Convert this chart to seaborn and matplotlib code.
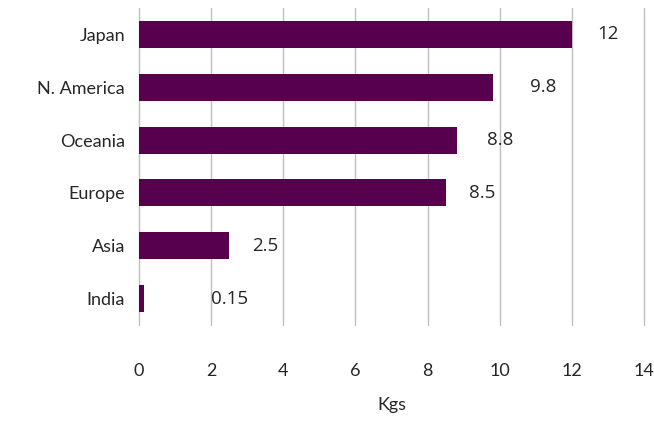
import matplotlib
matplotlib.use("Agg")
import matplotlib.pyplot as plt
import seaborn as sns
import pandas as pd

# Data
regions = ["Japan", "N. America", "Oceania", "Europe", "Asia", "India"]
kgs = [12, 9.8, 8.8, 8.5, 2.5, 0.15]
value_labels = ["12", "9.8", "8.8", "8.5", "2.5", "0.15"]
x_ticks = [0, 2, 4, 6, 8, 10, 12, 14]

# horizontal shift (data units) of each value label's centre from its bar end
label_shift = [1.0, 1.4, 1.2, 1.0, 1.0, 2.35]

sns.set_theme(style="white")
plt.rcParams["font.family"] = ["Lato", "DejaVu Sans"]

df = pd.DataFrame({"region": regions, "kgs": kgs})

fig = plt.figure(figsize=(6.54, 4.21), dpi=100)
ax = fig.add_axes([0.2125, 0.228, 0.7725, 0.753])

sns.barplot(data=df, x="kgs", y="region", orient="h", color="#57004E",
            saturation=1, width=0.51, linewidth=0, ax=ax)

ax.set_xlim(0, 14)
ax.set_ylim(5.5, -0.5)
ax.set_xticks(x_ticks)
ax.set_xticklabels([str(t) for t in x_ticks])
ax.xaxis.grid(True, color="#BFBFBF", linewidth=1.0)
for gl in ax.get_xgridlines():
    gl.set_clip_on(False)
ax.set_axisbelow(True)
for s in ax.spines.values():
    s.set_visible(False)
ax.tick_params(axis="both", length=0, labelsize=13, colors="#262626")
ax.tick_params(axis="x", pad=27)
ax.tick_params(axis="y", pad=10)
ax.set_xlabel("Kgs", fontsize=13, color="#262626", labelpad=13)
ax.set_ylabel("")

for i, (v, lab, sh) in enumerate(zip(kgs, value_labels, label_shift)):
    ax.text(v + sh, i, lab, ha="center", va="center", fontsize=13.5,
            color="#262626", family=["Open Sans", "DejaVu Sans"])

fig.savefig("out.png", dpi=100)
